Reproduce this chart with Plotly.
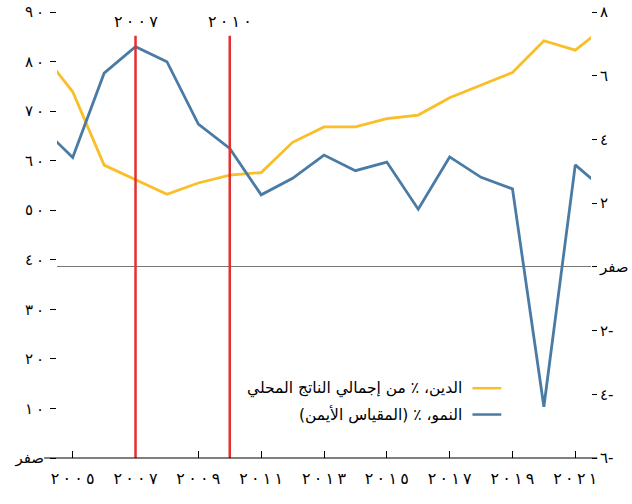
import plotly.graph_objects as go

# ---- data ----
years = list(range(2004, 2023))
debt_pct_gdp = [82.0, 73.9, 59.1, 56.2, 53.2, 55.5, 57.1, 57.6, 63.7, 66.8, 66.8,
                68.5, 69.2, 72.7, 75.3, 77.8, 84.2, 82.3, 87.3]
growth_pct = [4.4, 3.43, 6.08, 6.91, 6.44, 4.48, 3.72, 2.26, 2.78, 3.51, 3.02,
              3.29, 1.81, 3.45, 2.81, 2.45, -4.39, 3.20, 2.36]
event_years = [2007, 2010]
x_ticks = list(range(2005, 2022, 2))
left_ticks = [0, 10, 20, 30, 40, 50, 60, 70, 80, 90]
right_ticks = [-6, -4, -2, 0, 2, 4, 6, 8]
legend_labels = ["الدين، ٪ من إجمالي الناتج المحلي", "النمو، ٪ (المقياس الأيمن)"]
zero_word = "صفر"

YELLOW = "#F9BE28"
BLUE = "#4A7BA5"
RED = "#E3302F"
FONT = "DejaVu Sans"

AR = str.maketrans("0123456789", "٠١٢٣٤٥٦٧٨٩")
LRO, PDF = "\u202d", "\u202c"


def digits(n, gap="\u2009"):
    # Arabic-Indic digits, slightly spaced, kept in logical (left-to-right) order
    return LRO + gap.join(str(n).translate(AR)) + PDF


def ar(n, gap="\u200a"):
    if n == 0:
        return zero_word
    s = digits(abs(n), gap)
    return LRO + s + "-" + PDF if n < 0 else s


W, H = 632, 504

fig = go.Figure()
fig.add_trace(go.Scatter(x=years, y=debt_pct_gdp, mode="lines",
                         line=dict(color=YELLOW, width=2.8), yaxis="y",
                         showlegend=False))
fig.add_trace(go.Scatter(x=years, y=growth_pct, mode="lines",
                         line=dict(color=BLUE, width=2.8), yaxis="y2",
                         showlegend=False))

shapes = []
annotations = []
for yr in event_years:
    shapes.append(dict(type="line", xref="x", yref="paper", x0=yr, x1=yr,
                       y0=0, y1=0.947, line=dict(color=RED, width=2.5)))
    annotations.append(dict(x=yr, y=1.0, xref="x", yref="paper",
                            text=digits(yr), showarrow=False,
                            yanchor="middle", yshift=-9,
                            font=dict(family=FONT, size=16, color="black")))

# bottom axis line (extends slightly beyond the plot like the original)
shapes.append(dict(type="line", xref="paper", yref="paper", x0=-0.024, x1=1.012,
                   y0=0, y1=0, line=dict(color="black", width=1)))

# legend (right-to-left style)
leg_colors = [YELLOW, BLUE]
leg_y = [0.1565, 0.0975]
for lab, col, ly in zip(legend_labels, leg_colors, leg_y):
    shapes.append(dict(type="line", xref="paper", yref="paper", x0=0.778, x1=0.832,
                       y0=ly, y1=ly, line=dict(color=col, width=2.5)))
    annotations.append(dict(x=0.762, y=ly, xref="paper", yref="paper", text=lab,
                            showarrow=False, xanchor="right", yanchor="middle",
                            font=dict(family=FONT, size=15.5, color="black")))

fig.update_layout(
    width=W, height=H,
    margin=dict(l=57, r=41, t=12, b=46, autoexpand=False),
    paper_bgcolor="white", plot_bgcolor="white",
    font=dict(family=FONT, size=14, color="black"),
    xaxis=dict(range=[2004.5, 2021.5], tickvals=x_ticks,
               ticktext=[digits(v) for v in x_ticks],
               ticks="inside", ticklen=7, tickcolor="black", tickwidth=1,
               showgrid=False, zeroline=False, showline=False,
               automargin=False, ticklabelstandoff=9,
               tickfont=dict(family=FONT, size=16)),
    yaxis=dict(range=[0, 90], tickvals=left_ticks,
               ticktext=[ar(v, "\u2009") for v in left_ticks],
               ticks="outside", ticklen=6, tickcolor="black",
               showgrid=False, zeroline=False, showline=False,
               automargin=False, ticklabelstandoff=3,
               ticklabeloverflow="allow",
               tickfont=dict(family=FONT, size=15)),
    yaxis2=dict(range=[-6, 8], overlaying="y", side="right",
                tickvals=right_ticks, ticktext=[ar(v) for v in right_ticks],
                ticks="outside", ticklen=5, tickcolor="black",
                showgrid=False, zeroline=True, zerolinecolor="#777777",
                zerolinewidth=1, showline=False, automargin=False,
                ticklabeloverflow="allow",
                tickfont=dict(family=FONT, size=15)),
    shapes=shapes,
    annotations=annotations,
)

fig.write_html("out.html", config={"displayModeBar": False},
               post_script="document.body.style.margin='0';")
